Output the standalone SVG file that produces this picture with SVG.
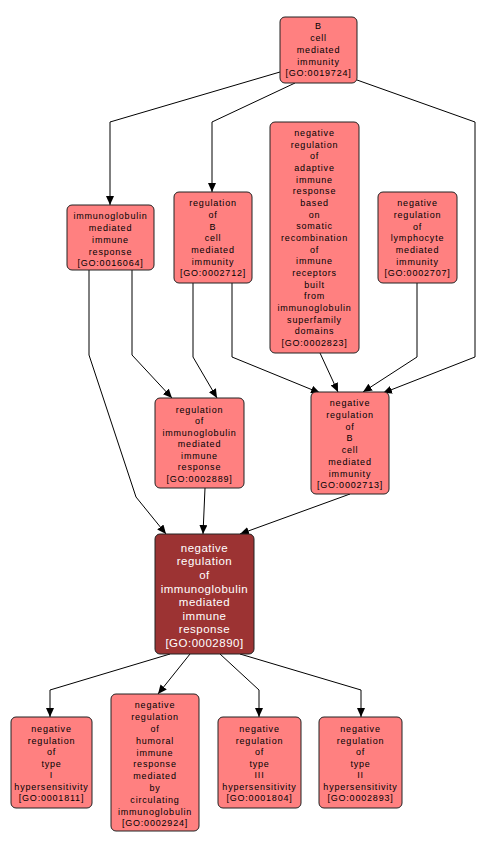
<svg xmlns="http://www.w3.org/2000/svg" width="486" height="850" viewBox="0 0 486 850">
<style>
.n rect{fill:#ff8080;stroke:#222;stroke-width:1}
.m rect{fill:#9c3333;stroke:#222;stroke-width:1}
.n text{font-family:"Liberation Sans",Arial,sans-serif;font-size:9px;letter-spacing:0.8px;fill:#000;text-anchor:middle}
.m text{font-family:"Liberation Sans",Arial,sans-serif;font-size:11.5px;letter-spacing:0.5px;fill:#fff;text-anchor:middle}
#edges path{fill:none;stroke:#000;stroke-width:1;marker-end:url(#ah)}
</style>
<defs>
<marker id="ah" markerUnits="userSpaceOnUse" markerWidth="9" markerHeight="8" viewBox="0 0 9 8" refX="9" refY="4" orient="auto">
<path d="M0,0 L9,4 L0,8 z" fill="#000"/>
</marker>
</defs>
<rect width="486" height="850" fill="#fff"/>
<g id="edges">
<path d="M280,72 L110,122 L110,205"/>
<path d="M295,83 L212,122 L212,192"/>
<path d="M357,80 L475,122 L475,357 L383,393"/>
<path d="M232,283 L232,357 L320,393"/>
<path d="M320,353 L338,392"/>
<path d="M417,283 L417,357 L363,392"/>
<path d="M132,270 L132,355 L172,398"/>
<path d="M193,283 L193,357 L217,398"/>
<path d="M89,270 L89,355 L136,497 L166,534"/>
<path d="M205,488 L203,534"/>
<path d="M350,494 L240,534"/>
<path d="M170,654 L50,690 L50,717"/>
<path d="M190,654 L158,694"/>
<path d="M220,654 L259,690 L259,717"/>
<path d="M240,654 L361,690 L361,717"/>
</g>
<g id="GO0019724" class="n"><rect x="280" y="17" width="77" height="66" rx="5"/>
<text x="318.5" y="29.3">B</text><text x="318.5" y="41">cell</text><text x="318.5" y="52.8">mediated</text><text x="318.5" y="64.5">immunity</text><text x="318.5" y="76.3">[GO:0019724]</text></g>
<g id="GO0016064" class="n"><rect x="67" y="205" width="87" height="65" rx="5"/>
<text x="110.5" y="219.3">immunoglobulin</text><text x="110.5" y="231">mediated</text><text x="110.5" y="242.8">immune</text><text x="110.5" y="254.5">response</text><text x="110.5" y="266.3">[GO:0016064]</text></g>
<g id="GO0002712" class="n"><rect x="174" y="192" width="78" height="91" rx="5"/>
<text x="213" y="206.3">regulation</text><text x="213" y="218">of</text><text x="213" y="229.6">B</text><text x="213" y="241.3">cell</text><text x="213" y="253">mediated</text><text x="213" y="264.6">immunity</text><text x="213" y="276.3">[GO:0002712]</text></g>
<g id="GO0002823" class="n"><rect x="270" y="122" width="89" height="231" rx="5"/>
<text x="314.5" y="135.8">negative</text><text x="314.5" y="147.5">regulation</text><text x="314.5" y="159.1">of</text><text x="314.5" y="170.8">adaptive</text><text x="314.5" y="182.5">immune</text><text x="314.5" y="194.1">response</text><text x="314.5" y="205.8">based</text><text x="314.5" y="217.5">on</text><text x="314.5" y="229.1">somatic</text><text x="314.5" y="240.8">recombination</text><text x="314.5" y="252.5">of</text><text x="314.5" y="264.1">immune</text><text x="314.5" y="275.8">receptors</text><text x="314.5" y="287.5">built</text><text x="314.5" y="299.1">from</text><text x="314.5" y="310.8">immunoglobulin</text><text x="314.5" y="322.5">superfamily</text><text x="314.5" y="334.1">domains</text><text x="314.5" y="345.8">[GO:0002823]</text></g>
<g id="GO0002707" class="n"><rect x="378" y="192" width="79" height="91" rx="5"/>
<text x="417.5" y="206.3">negative</text><text x="417.5" y="218">regulation</text><text x="417.5" y="229.6">of</text><text x="417.5" y="241.3">lymphocyte</text><text x="417.5" y="253">mediated</text><text x="417.5" y="264.6">immunity</text><text x="417.5" y="276.3">[GO:0002707]</text></g>
<g id="GO0002889" class="n"><rect x="155" y="398" width="89" height="90" rx="5"/>
<text x="199.5" y="412.8">regulation</text><text x="199.5" y="424.3">of</text><text x="199.5" y="435.8">immunoglobulin</text><text x="199.5" y="447.3">mediated</text><text x="199.5" y="458.8">immune</text><text x="199.5" y="470.3">response</text><text x="199.5" y="481.8">[GO:0002889]</text></g>
<g id="GO0002713" class="n"><rect x="311" y="392" width="78" height="102" rx="5"/>
<text x="350" y="406.3">negative</text><text x="350" y="418">regulation</text><text x="350" y="429.7">of</text><text x="350" y="441.4">B</text><text x="350" y="453.2">cell</text><text x="350" y="464.9">mediated</text><text x="350" y="476.6">immunity</text><text x="350" y="488.3">[GO:0002713]</text></g>
<g id="GO0002890" class="m"><rect x="155" y="534" width="99" height="120" rx="5"/>
<text x="204.5" y="551.8">negative</text><text x="204.5" y="565.4">regulation</text><text x="204.5" y="579">of</text><text x="204.5" y="592.6">immunoglobulin</text><text x="204.5" y="606.2">mediated</text><text x="204.5" y="619.8">immune</text><text x="204.5" y="633.4">response</text><text x="204.5" y="647">[GO:0002890]</text></g>
<g id="GO0001811" class="n"><rect x="11" y="717" width="81" height="91" rx="5"/>
<text x="51.5" y="732.3">negative</text><text x="51.5" y="743.8">regulation</text><text x="51.5" y="755.3">of</text><text x="51.5" y="766.8">type</text><text x="51.5" y="778.3">I</text><text x="51.5" y="789.8">hypersensitivity</text><text x="51.5" y="801.3">[GO:0001811]</text></g>
<g id="GO0002924" class="n"><rect x="111" y="694" width="88" height="137" rx="5"/>
<text x="155" y="708.3">negative</text><text x="155" y="720.1">regulation</text><text x="155" y="731.9">of</text><text x="155" y="743.7">humoral</text><text x="155" y="755.5">immune</text><text x="155" y="767.3">response</text><text x="155" y="779.1">mediated</text><text x="155" y="790.9">by</text><text x="155" y="802.7">circulating</text><text x="155" y="814.5">immunoglobulin</text><text x="155" y="826.3">[GO:0002924]</text></g>
<g id="GO0001804" class="n"><rect x="218" y="717" width="83" height="91" rx="5"/>
<text x="259.5" y="732.3">negative</text><text x="259.5" y="743.8">regulation</text><text x="259.5" y="755.3">of</text><text x="259.5" y="766.8">type</text><text x="259.5" y="778.3">III</text><text x="259.5" y="789.8">hypersensitivity</text><text x="259.5" y="801.3">[GO:0001804]</text></g>
<g id="GO0002893" class="n"><rect x="319" y="717" width="83" height="91" rx="5"/>
<text x="360.5" y="732.3">negative</text><text x="360.5" y="743.8">regulation</text><text x="360.5" y="755.3">of</text><text x="360.5" y="766.8">type</text><text x="360.5" y="778.3">II</text><text x="360.5" y="789.8">hypersensitivity</text><text x="360.5" y="801.3">[GO:0002893]</text></g>
</svg>
